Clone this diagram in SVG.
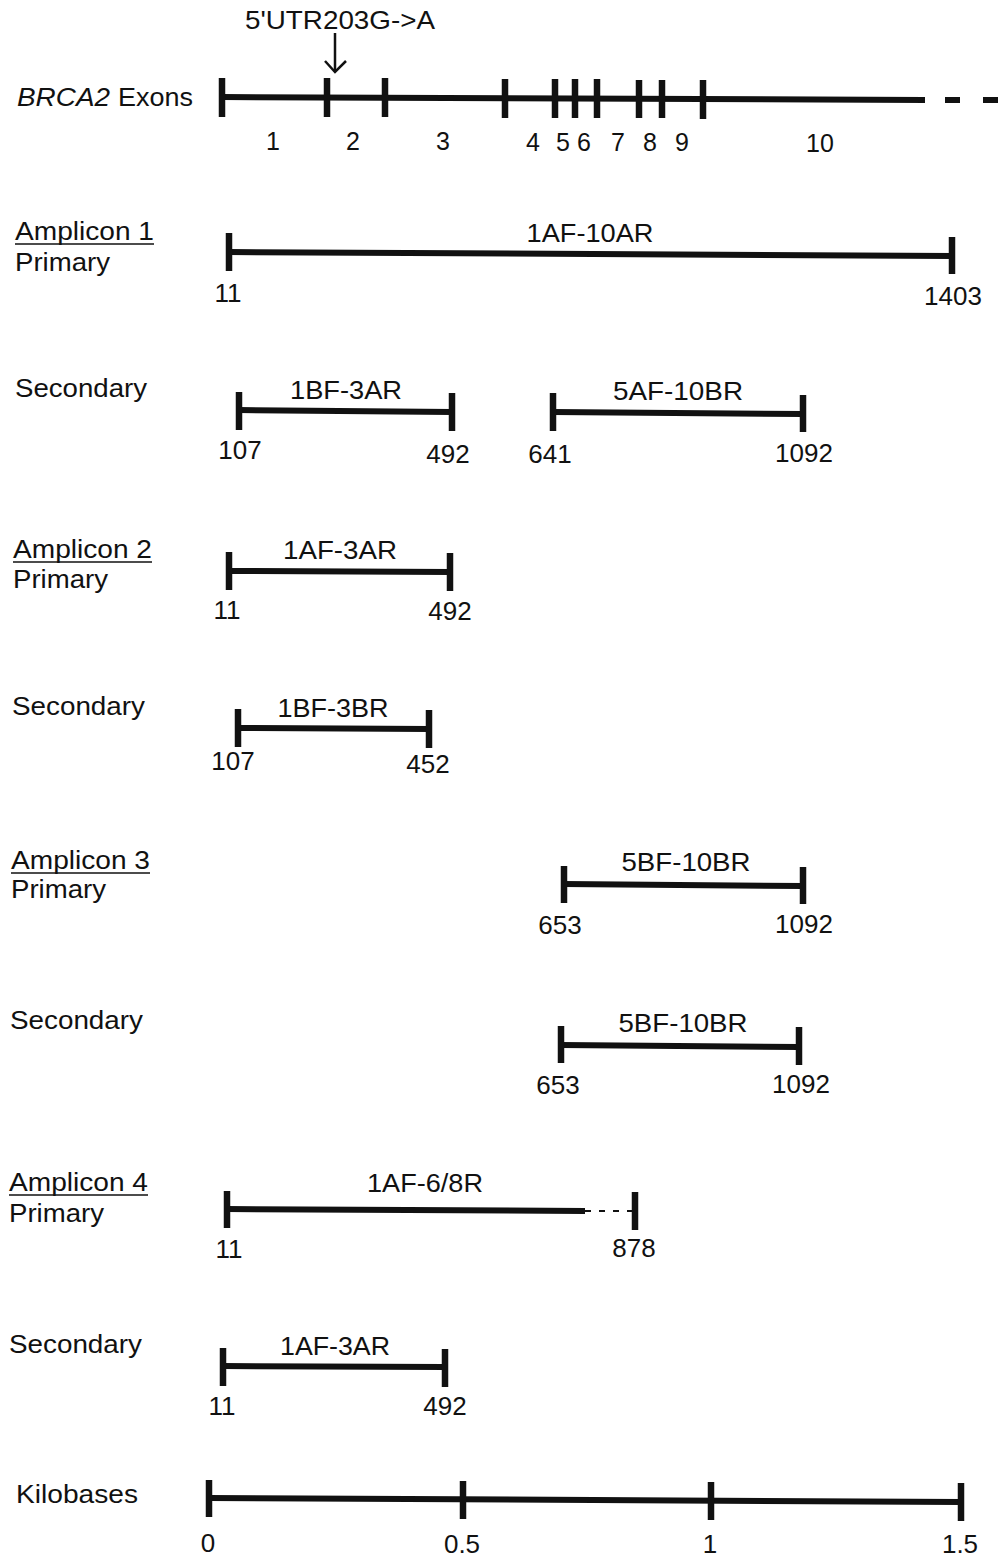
<svg xmlns="http://www.w3.org/2000/svg" width="1003" height="1559" viewBox="0 0 1003 1559">
<style>
  text { font-family: "Liberation Sans", Arial, sans-serif; fill: #111111; }
  .lab { font-size: 25px; }
  .num { font-size: 26px; text-anchor: middle; }
  .ex { font-size: 25px; text-anchor: middle; }
  .pr { font-size: 25px; text-anchor: middle; }
  .bar { stroke: #111111; stroke-width: 6; fill: none; stroke-linecap: butt; }
  .tick { stroke: #111111; stroke-width: 6.5; fill: none; }
  .ul { stroke: #111111; stroke-width: 1.5; }
  .thin { stroke: #111111; stroke-width: 2.5; fill: none; }
</style>
<rect width="1003" height="1559" fill="#ffffff"/>

<g id="exons">
  <text x="17" y="106" class="lab" font-style="italic" textLength="93" lengthAdjust="spacingAndGlyphs">BRCA2</text>
  <text x="118" y="106" class="lab" textLength="75" lengthAdjust="spacingAndGlyphs">Exons</text>
  <line class="bar" x1="222" y1="97" x2="925" y2="100"/>
  <line class="bar" x1="945" y1="100" x2="960" y2="100" stroke-width="7"/>
  <line class="bar" x1="983" y1="100" x2="998" y2="100" stroke-width="7"/>
  <line class="tick" x1="222" y1="78" x2="222" y2="117"/>
  <line class="tick" x1="327" y1="78" x2="327" y2="117"/>
  <line class="tick" x1="385" y1="78" x2="385" y2="117"/>
  <line class="tick" x1="505" y1="79" x2="505" y2="118"/>
  <line class="tick" x1="555" y1="79" x2="555" y2="118"/>
  <line class="tick" x1="575" y1="79" x2="575" y2="118"/>
  <line class="tick" x1="597" y1="79" x2="597" y2="118"/>
  <line class="tick" x1="639" y1="80" x2="639" y2="118"/>
  <line class="tick" x1="662" y1="80" x2="662" y2="118"/>
  <line class="tick" x1="703" y1="80" x2="703" y2="119"/>
  <text class="ex" x="273" y="150">1</text>
  <text class="ex" x="353" y="150">2</text>
  <text class="ex" x="443" y="150">3</text>
  <text class="ex" x="533" y="151">4</text>
  <text class="ex" x="563" y="151">5</text>
  <text class="ex" x="584" y="151">6</text>
  <text class="ex" x="618" y="151">7</text>
  <text class="ex" x="650" y="151">8</text>
  <text class="ex" x="682" y="151">9</text>
  <text class="ex" x="820" y="152">10</text>
</g>

<g id="mutation">
  <text x="340" y="29" class="pr" font-size="24" textLength="190" lengthAdjust="spacingAndGlyphs">5'UTR203G-&gt;A</text>
</g>

<g id="connectors">
  <line class="thin" x1="335" y1="33" x2="335" y2="72"/>
  <polyline class="thin" points="325,61 335,72 346,61"/>
</g>

<g id="amplicon1-primary">
  <text x="15" y="240" class="lab" textLength="139" lengthAdjust="spacingAndGlyphs">Amplicon 1</text>
  <line class="ul" x1="15" y1="244" x2="154" y2="244"/>
  <text x="15" y="271" class="lab" textLength="95" lengthAdjust="spacingAndGlyphs">Primary</text>
  <line class="bar" x1="229" y1="252" x2="952" y2="256"/>
  <line class="tick" x1="229" y1="233" x2="229" y2="271"/>
  <line class="tick" x1="952" y1="237" x2="952" y2="274"/>
  <text class="pr" x="590" y="242" textLength="127" lengthAdjust="spacingAndGlyphs">1AF-10AR</text>
  <text class="num" x="228" y="302">11</text>
  <text class="num" x="953" y="305">1403</text>
</g>

<g id="amplicon1-secondary">
  <text x="15" y="397" class="lab" textLength="132" lengthAdjust="spacingAndGlyphs">Secondary</text>
  <line class="bar" x1="239" y1="410" x2="452" y2="412"/>
  <line class="tick" x1="239" y1="392" x2="239" y2="430"/>
  <line class="tick" x1="452" y1="393" x2="452" y2="431"/>
  <text class="pr" x="346" y="399" textLength="112" lengthAdjust="spacingAndGlyphs">1BF-3AR</text>
  <text class="num" x="240" y="459">107</text>
  <text class="num" x="448" y="463">492</text>
  <line class="bar" x1="553" y1="412" x2="803" y2="414"/>
  <line class="tick" x1="553" y1="393" x2="553" y2="431"/>
  <line class="tick" x1="803" y1="395" x2="803" y2="432"/>
  <text class="pr" x="678" y="400" textLength="130" lengthAdjust="spacingAndGlyphs">5AF-10BR</text>
  <text class="num" x="550" y="463">641</text>
  <text class="num" x="804" y="462">1092</text>
</g>

<g id="amplicon2-primary">
  <text x="13" y="558" class="lab" textLength="139" lengthAdjust="spacingAndGlyphs">Amplicon 2</text>
  <line class="ul" x1="13" y1="562" x2="152" y2="562"/>
  <text x="13" y="588" class="lab" textLength="95" lengthAdjust="spacingAndGlyphs">Primary</text>
  <line class="bar" x1="229" y1="571" x2="450" y2="572"/>
  <line class="tick" x1="229" y1="552" x2="229" y2="590"/>
  <line class="tick" x1="450" y1="553" x2="450" y2="591"/>
  <text class="pr" x="340" y="559" textLength="114" lengthAdjust="spacingAndGlyphs">1AF-3AR</text>
  <text class="num" x="227" y="619">11</text>
  <text class="num" x="450" y="620">492</text>
</g>

<g id="amplicon2-secondary">
  <text x="12" y="715" class="lab" textLength="133" lengthAdjust="spacingAndGlyphs">Secondary</text>
  <line class="bar" x1="238" y1="728" x2="429" y2="729"/>
  <line class="tick" x1="238" y1="709" x2="238" y2="747"/>
  <line class="tick" x1="429" y1="710" x2="429" y2="748"/>
  <text class="pr" x="333" y="717" textLength="111" lengthAdjust="spacingAndGlyphs">1BF-3BR</text>
  <text class="num" x="233" y="770">107</text>
  <text class="num" x="428" y="773">452</text>
</g>

<g id="amplicon3-primary">
  <text x="11" y="869" class="lab" textLength="139" lengthAdjust="spacingAndGlyphs">Amplicon 3</text>
  <line class="ul" x1="11" y1="873" x2="150" y2="873"/>
  <text x="11" y="898" class="lab" textLength="95" lengthAdjust="spacingAndGlyphs">Primary</text>
  <line class="bar" x1="564" y1="884" x2="803" y2="886"/>
  <line class="tick" x1="564" y1="866" x2="564" y2="903"/>
  <line class="tick" x1="803" y1="867" x2="803" y2="904"/>
  <text class="pr" x="686" y="871" textLength="129" lengthAdjust="spacingAndGlyphs">5BF-10BR</text>
  <text class="num" x="560" y="934">653</text>
  <text class="num" x="804" y="933">1092</text>
</g>

<g id="amplicon3-secondary">
  <text x="10" y="1029" class="lab" textLength="133" lengthAdjust="spacingAndGlyphs">Secondary</text>
  <line class="bar" x1="561" y1="1045" x2="799" y2="1047"/>
  <line class="tick" x1="561" y1="1026" x2="561" y2="1063"/>
  <line class="tick" x1="799" y1="1027" x2="799" y2="1065"/>
  <text class="pr" x="683" y="1032" textLength="129" lengthAdjust="spacingAndGlyphs">5BF-10BR</text>
  <text class="num" x="558" y="1094">653</text>
  <text class="num" x="801" y="1093">1092</text>
</g>

<g id="amplicon4-primary">
  <text x="9" y="1191" class="lab" textLength="139" lengthAdjust="spacingAndGlyphs">Amplicon 4</text>
  <line class="ul" x1="9" y1="1195" x2="148" y2="1195"/>
  <text x="9" y="1222" class="lab" textLength="95" lengthAdjust="spacingAndGlyphs">Primary</text>
  <line class="bar" x1="227" y1="1209" x2="585" y2="1211"/>
  <line x1="585" y1="1211" x2="632" y2="1211" stroke="#111111" stroke-width="2" stroke-dasharray="6,8"/>
  <line class="tick" x1="227" y1="1191" x2="227" y2="1228"/>
  <line class="tick" x1="635" y1="1192" x2="635" y2="1230"/>
  <text class="pr" x="425" y="1192" textLength="116" lengthAdjust="spacingAndGlyphs">1AF-6/8R</text>
  <text class="num" x="229" y="1258">11</text>
  <text class="num" x="634" y="1257">878</text>
</g>

<g id="amplicon4-secondary">
  <text x="9" y="1353" class="lab" textLength="133" lengthAdjust="spacingAndGlyphs">Secondary</text>
  <line class="bar" x1="223" y1="1366" x2="445" y2="1367"/>
  <line class="tick" x1="223" y1="1348" x2="223" y2="1386"/>
  <line class="tick" x1="445" y1="1349" x2="445" y2="1387"/>
  <text class="pr" x="335" y="1355" textLength="110" lengthAdjust="spacingAndGlyphs">1AF-3AR</text>
  <text class="num" x="222" y="1415">11</text>
  <text class="num" x="445" y="1415">492</text>
</g>

<g id="scale">
  <text x="16" y="1503" class="lab" textLength="122" lengthAdjust="spacingAndGlyphs">Kilobases</text>
  <line class="bar" x1="209" y1="1498" x2="961" y2="1502"/>
  <line class="tick" x1="209" y1="1480" x2="209" y2="1517"/>
  <line class="tick" x1="463" y1="1481" x2="463" y2="1519"/>
  <line class="tick" x1="711" y1="1482" x2="711" y2="1520"/>
  <line class="tick" x1="961" y1="1483" x2="961" y2="1521"/>
  <text class="num" x="208" y="1552">0</text>
  <text class="num" x="462" y="1553">0.5</text>
  <text class="num" x="710" y="1553">1</text>
  <text class="num" x="960" y="1553">1.5</text>
</g>
</svg>
